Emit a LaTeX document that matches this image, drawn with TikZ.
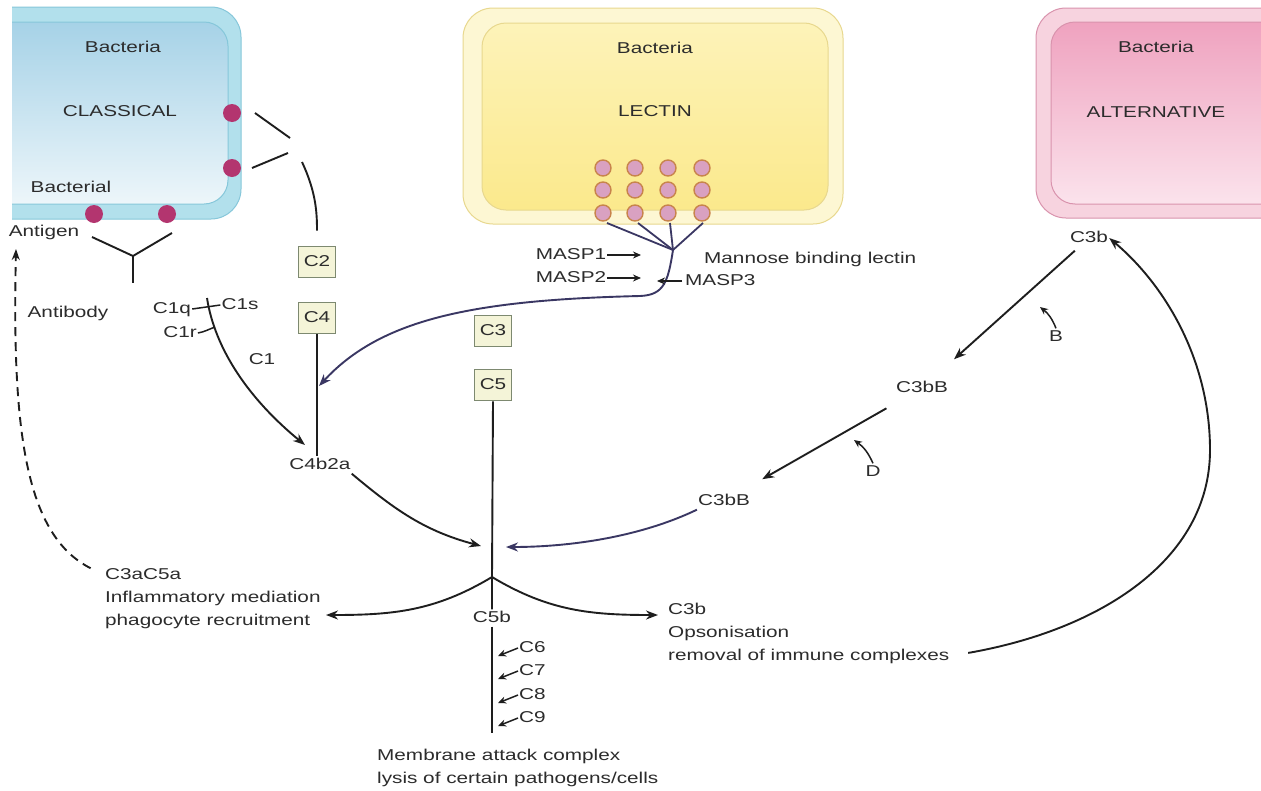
\documentclass[tikz,border=0pt]{standalone}
\usepackage{fontspec}
\setmainfont{Liberation Sans}[FakeStretch=1.32]
\usetikzlibrary{arrows.meta}

\definecolor{texte}{HTML}{2C2C2C}
\definecolor{noir}{HTML}{1E1E1E}
\definecolor{violet}{HTML}{3A3763}
\definecolor{bleuband}{HTML}{B2E0EC}
\definecolor{bleubord}{HTML}{86C7DA}
\definecolor{bleuhaut}{HTML}{A6D2E7}
\definecolor{bleubas}{HTML}{EDF6FA}
\definecolor{jauneband}{HTML}{FDF7D3}
\definecolor{jaunebord}{HTML}{E8D88E}
\definecolor{jaunehaut}{HTML}{FDF3B9}
\definecolor{jaunebas}{HTML}{FBE98C}
\definecolor{roseband}{HTML}{F7D3DF}
\definecolor{rosebord}{HTML}{D993AD}
\definecolor{rosehaut}{HTML}{EFA2BF}
\definecolor{rosebas}{HTML}{FBE3EC}
\definecolor{antigene}{HTML}{B3356F}
\definecolor{lectinfond}{HTML}{D9A1C1}
\definecolor{lectinbord}{HTML}{C8844C}
\definecolor{boitefond}{HTML}{F4F4D8}
\definecolor{boitebord}{HTML}{7D8970}

\newcommand{\police}{\fontsize{15.7}{22.5}\selectfont}

\begin{document}
\begin{tikzpicture}[x=1pt,y=-1pt,
    lbl/.style={font=\police, text=texte, inner sep=1pt, text height=11.5pt, text depth=3.5pt},
    boite/.style={lbl, draw=boitebord, fill=boitefond, line width=1.6pt, minimum width=37pt, minimum height=31pt},
    trait/.style={line width=1.9pt, draw=noir},
    fleche/.style={trait, -{Stealth[length=12pt,width=9pt]}},
    petite/.style={line width=1.5pt, draw=noir, -{Stealth[length=8pt,width=7pt]}},
    pointille/.style={trait, dash pattern=on 9pt off 6pt, -{Stealth[length=11pt,width=8pt]}}]

    % Cadre
    \useasboundingbox (0,0) rectangle (1261,790);
    \fill[white] (0,0) rectangle (1261,790);

    % Bactérie, voie classique
    \begin{scope}
        \clip (12,0) rectangle (300,240);
        \draw[bleubord, fill=bleuband, line width=1pt, rounded corners=30pt] (-30,7) rectangle (241,219);
        \draw[bleubord, line width=1pt, top color=bleuhaut, bottom color=bleubas, rounded corners=24pt] (-30,22) rectangle (228,204);
    \end{scope}
    \foreach \x/\y in {232/113, 232/168, 94/214, 167/214}
        \fill[antigene] (\x,\y) circle (9);

    % Bactérie, voie des lectines
    \draw[jaunebord, fill=jauneband, line width=1pt, rounded corners=30pt] (463,8) rectangle (843,224);
    \draw[jaunebord, line width=1pt, top color=jaunehaut, bottom color=jaunebas, rounded corners=24pt] (482,23) rectangle (828,210);
    \foreach \x in {603,635,668,702}
        \foreach \y in {168,190,213}
            \draw[lectinbord, fill=lectinfond, line width=1.4pt] (\x,\y) circle (8);

    % Bactérie, voie alterne
    \begin{scope}
        \clip (1000,0) rectangle (1261,240);
        \draw[rosebord, fill=roseband, line width=1pt, rounded corners=30pt] (1036,8) rectangle (1300,218);
        \draw[rosebord, line width=1pt, top color=rosehaut, bottom color=rosebas, rounded corners=24pt] (1051,22) rectangle (1300,204);
    \end{scope}

    % Textes des bactéries
    \node[lbl] (bactC) at (123,48) {Bacteria};
    \node[lbl] (classique) at (120,112) {CLASSICAL};
    \node[lbl] (bacterial) at (71,188) {Bacterial};
    \node[lbl] (antigen) at (44,232) {Antigen};
    \node[lbl] (antibody) at (68,313) {Antibody};
    \node[lbl] (bactL) at (655,49) {Bacteria};
    \node[lbl] (lectine) at (655,112) {LECTIN};
    \node[lbl] (bactA) at (1156,48) {Bacteria};
    \node[lbl] (alternative) at (1156,113) {ALTERNATIVE};

    % Composants
    \node[boite] (C2) at (317,262) {C2};
    \node[boite] (C4) at (317,318) {C4};
    \node[boite] (C3) at (493,331) {C3};
    \node[boite] (C5) at (493,385) {C5};
    \node[lbl] (c1q) at (172,309) {C1q};
    \node[lbl] (c1s) at (240,305) {C1s};
    \node[lbl] (c1r) at (180,333) {C1r};
    \node[lbl] (labC1) at (262,360) {C1};
    \node[lbl] (c4b2a) at (320,465) {C4b2a};
    \node[lbl] (c5b) at (492,618) {C5b};

    % Lectine et MASP
    \node[lbl] (masp1) at (571,255) {MASP1};
    \node[lbl] (masp2) at (571,278) {MASP2};
    \node[lbl, anchor=west] (mbl) at (703,259) {Mannose binding lectin};
    \node[lbl, anchor=west] (masp3) at (684,281) {MASP3};

    % Voie alterne
    \node[lbl] (c3b) at (1089,238) {C3b};
    \node[lbl] (c3bb1) at (922,388) {C3bB};
    \node[lbl] (c3bb2) at (724,501) {C3bB};
    \node[lbl] (labB) at (1056,337) {B};
    \node[lbl] (labD) at (873,472) {D};

    % Produits
    \node[lbl, anchor=west] (c3ac5a) at (104,575) {C3aC5a};
    \node[lbl, anchor=west] (inflam) at (104,598) {Inflammatory mediation};
    \node[lbl, anchor=west] (phago) at (104,621) {phagocyte recruitment};
    \node[lbl, anchor=west] (c3bopso) at (667,610) {C3b};
    \node[lbl, anchor=west] (opso) at (667,633) {Opsonisation};
    \node[lbl, anchor=west] (suppr) at (667,656) {removal of immune complexes};
    \node[font=\police, text=texte, align=left, anchor=west, inner sep=1pt] (mac) at (376,768)
        {Membrane attack complex\\lysis of certain pathogens/cells};

    % Points de passage
    \coordinate (anticorps) at (302,162);
    \coordinate (c1haut) at (207,298);
    \coordinate (c1rpt) at (215,327);
    \coordinate (pointeC1) at (305,445);
    \coordinate (fourche) at (673,250);
    \coordinate (cibleC4) at (319,386);
    \coordinate (jonction) at (492,577);
    \coordinate (pointeG) at (481,546);
    \coordinate (pointeD) at (506,547);
    \coordinate (pointeInf) at (326,615);
    \coordinate (pointeOpso) at (658,615);
    \coordinate (pointeAg) at (16,249);
    \coordinate (macfin) at (492,733);
    \coordinate (m1) at (641,255);
    \coordinate (m2) at (641,278);
    \coordinate (m3) at (657,281);
    \coordinate (pointeB) at (1040,307);
    \coordinate (pointeDD) at (854,440);

    % Anticorps
    \draw[trait] (92,237) -- (133,256) -- (172,233);
    \draw[trait] (133,256) -- (133,283);
    \draw[trait] (255,113) -- (290,138);
    \draw[trait] (252,168) -- (288,153);
    \draw[trait, shorten >=15pt] (anticorps) to[out=-65,in=90] (C2.north);

    % Complexe C1
    \draw[trait, line width=1.5pt] (c1q.east) -- (c1s.west);
    \draw[trait, line width=1.5pt] (c1r.east) to[out=10,in=200] (c1rpt);
    \draw[fleche] (c1haut) .. controls (215,350) and (250,400) .. (pointeC1);
    \draw[trait] (C4.south) -- (C4.south |- c4b2a.north);

    % Lectine
    \foreach \x in {607,638,670,703}
        \draw[violet, line width=1.8pt] (\x,223) -- (fourche);
    \draw[fleche, draw=violet] (fourche) .. controls (668,282) and (664,295) .. (640,296)
        .. controls (470,300) and (380,320) .. (cibleC4);
    \draw[petite] (masp1.east) -- (m1);
    \draw[petite] (masp2.east) -- (m2);
    \draw[petite, shorten <=2pt] (masp3.west) -- (m3);

    % Convergence vers C5
    \draw[fleche] (c4b2a.south east) to[out=-40,in=165] (pointeG);
    \draw[fleche, draw=violet] (c3bb2.south west) .. controls (640,537) and (570,547) .. (pointeD);
    \draw[trait] (C5.south) -- (jonction) -- (c5b.north);
    \draw[trait] (c5b.south) -- (macfin);
    \draw[fleche] (jonction) to[out=-149,in=0] (pointeInf);
    \draw[fleche] (jonction) to[out=-31,in=180] (pointeOpso);

    % C6 à C9
    \foreach \n/\y in {6/648,7/671,8/695,9/718}{
        \node[lbl, anchor=west] (c\n) at (518,\y) {C\n};
        \coordinate (p\n) at (498,\y+8);
        \draw[petite] (c\n.west) -- (p\n);
    }

    % Boucle alterne
    \draw[fleche, shorten <=19pt, shorten >=43pt] (c3b.center) -- (c3bb1.center);
    \draw[fleche, shorten <=41pt, shorten >=44pt] (c3bb1.center) -- (c3bb2.center);
    \draw[petite] (labB.north) to[bend right=15] (pointeB);
    \draw[petite] (labD.north) to[bend right=15] (pointeDD);
    \draw[fleche, shorten <=18pt] (suppr.east) .. controls (1100,630) and (1210,560) .. (1210,450)
        .. controls (1210,360) and (1165,285) .. (c3b.east);

    % Retour en pointillé
    \draw[pointille, shorten <=15pt] (c3ac5a.west) .. controls (25,535) and (12,430) .. (pointeAg);
\end{tikzpicture}
\end{document}
